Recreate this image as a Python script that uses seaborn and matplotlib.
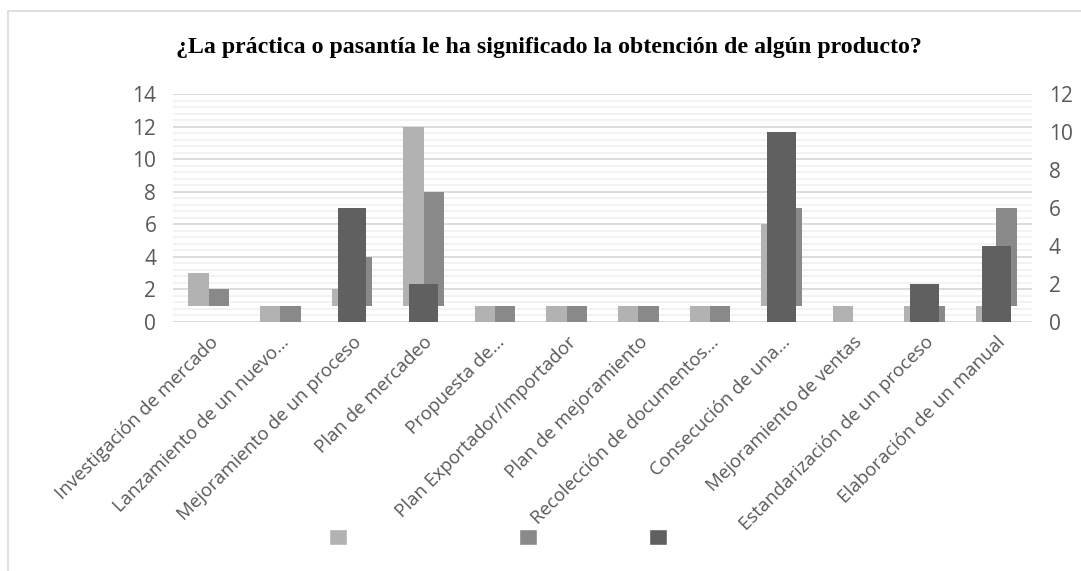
import numpy as np
import pandas as pd
import matplotlib.pyplot as plt
from matplotlib.patches import Patch, Rectangle
from matplotlib.ticker import MultipleLocator
import seaborn as sns

# Data
categories = [
    "Investigación de mercado",
    "Lanzamiento de un nuevo…",
    "Mejoramiento de un proceso",
    "Plan de mercadeo",
    "Propuesta de…",
    "Plan Exportador/Importador",
    "Plan de mejoramiento",
    "Recolección de documentos…",
    "Consecución de una…",
    "Mejoramiento de ventas",
    "Estandarización de un proceso",
    "Elaboración de un manual",
]
serie_1 = [3, 0, 2, 12, 0, 0, 0, 0, 6, 0, 0, 0]   # left axis, light gray
serie_2 = [2, 0, 4, 8, 0, 0, 0, 0, 7, 1, 0, 7]    # left axis, mid gray
serie_3 = [0, 0, 6, 2, 0, 0, 0, 0, 10, 0, 2, 4]   # right axis, dark gray

title = "¿La práctica o pasantía le ha significado la obtención de algún producto?"

LIGHT, MID, DARK = "#b2b2b2", "#898989", "#606060"
TXT = "#595959"
BASE = 1  # horizontal axis crosses the left axis at 1 (Excel setting)

sns.set_theme(style="white")
plt.rcParams['font.family'] = ['Open Sans', 'DejaVu Sans']

fig = plt.figure(figsize=(10.81, 5.71), dpi=100)
ax = fig.add_axes([173 / 1081, 1 - 322 / 571, (1032 - 173) / 1081, (322 - 94) / 571])

long_df = pd.DataFrame({
    "cat": categories * 2,
    "serie": ["s1"] * len(categories) + ["s2"] * len(categories),
    "val": serie_1 + serie_2,
})
long_df["h"] = long_df["val"] - BASE

sns.barplot(data=long_df, x="cat", y="h", hue="serie", order=categories,
            palette=[LIGHT, MID], width=0.567, gap=0, bottom=BASE,
            legend=False, ax=ax, linewidth=0, saturation=1, zorder=2)

ax.set_ylim(0, 14)
ax.set_xlim(-0.5, len(categories) - 0.5)
ax.yaxis.set_major_locator(MultipleLocator(2))
ax.yaxis.set_minor_locator(MultipleLocator(0.4))
ax.grid(axis="y", which="major", color="#d9d9d9", linewidth=1.3, zorder=0)
ax.grid(axis="y", which="minor", color="#f0f0f0", linewidth=1.2, zorder=0)
ax.set_axisbelow(True)
for s in ax.spines.values():
    s.set_visible(False)
ax.set_xlabel("")
ax.set_ylabel("")
ax.tick_params(axis="y", which="both", length=0, labelsize=15, labelcolor=TXT, pad=12)
ax.tick_params(axis="x", length=0, labelsize=13.4, labelcolor=TXT, pad=8)
ax.set_xticks(range(len(categories)))
ax.set_xticklabels(categories, rotation=45, ha="right", rotation_mode="anchor")

ax2 = ax.twinx()
sns.barplot(x=categories, y=serie_3, order=categories, color=DARK, width=0.4,
            saturation=1, linewidth=0, ax=ax2)
ax2.set_ylim(0, 12)
ax2.yaxis.set_major_locator(MultipleLocator(2))
ax2.tick_params(axis="y", length=0, labelsize=15, labelcolor=TXT, pad=12)
ax2.set_ylabel("")
ax2.grid(False)
for s in ax2.spines.values():
    s.set_visible(False)

fig.text(0.508, 1 - 48 / 571, title, ha="center", va="center", fontsize=17.2,
         fontweight="bold", family=["Liberation Serif", "DejaVu Serif"], color="black")

# chart area border
fig.patches.append(Rectangle((8 / 1081, -0.05), 1.1, 1 - 11 / 571 + 0.05,
                             transform=fig.transFigure, fill=False,
                             edgecolor="#d9d9d9", linewidth=1.2))

# legend with blank labels
for col, xpos in zip([LIGHT, MID, DARK], [338, 528, 658]):
    fig.legend(handles=[Patch(facecolor=col)], labels=[""], loc="center",
               bbox_to_anchor=(xpos / 1081, 1 - 538 / 571), frameon=False,
               handlelength=0.9, handleheight=0.9, handletextpad=0,
               borderpad=0, fontsize=14)

fig.savefig("out.png", dpi=100)
